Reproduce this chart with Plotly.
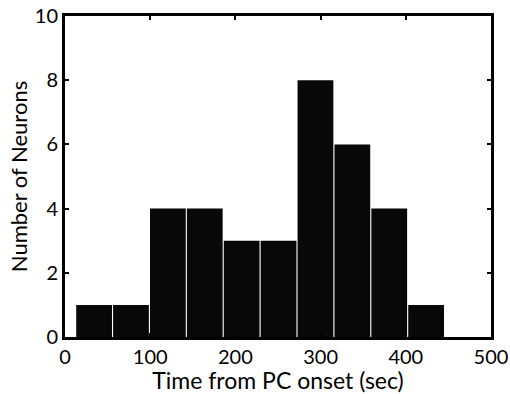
import plotly.graph_objects as go

# Data
bin_edges = [12.5, 55.8, 99.1, 142.4, 185.7, 229.0, 272.3, 315.6, 358.9, 402.2, 445.5]
counts = [1, 1, 4, 4, 3, 3, 8, 6, 4, 1]
x_ticks = [0, 100, 200, 300, 400, 500]
y_ticks = [0, 2, 4, 6, 8, 10]

centers = [(a + b) / 2 for a, b in zip(bin_edges[:-1], bin_edges[1:])]
widths = [(b - a) - 1.3 for a, b in zip(bin_edges[:-1], bin_edges[1:])]

font_family = "Lato, Open Sans, sans-serif"

fig = go.Figure(
    go.Bar(
        x=centers,
        y=counts,
        width=widths,
        marker=dict(color="#080808", line=dict(width=0)),
    )
)

axis_common = dict(
    showline=True,
    linecolor="black",
    linewidth=3,
    mirror="ticks",
    ticks="inside",
    ticklen=4,
    tickwidth=2,
    tickcolor="black",
    showgrid=False,
    zeroline=False,
    automargin=False,
    ticklabeloverflow="allow",
    tickfont=dict(family=font_family, size=20, color="black"),
)

fig.update_layout(
    width=510,
    height=394,
    margin=dict(l=65, r=19, t=16, b=57),
    paper_bgcolor="white",
    plot_bgcolor="white",
    showlegend=False,
    xaxis=dict(
        axis_common,
        range=[0, 500],
        tickvals=x_ticks,
        title=dict(text="Time from PC onset (sec)", standoff=0,
                   font=dict(family=font_family, size=23, color="black")),
    ),
    yaxis=dict(
        axis_common,
        range=[0, 10],
        tickvals=y_ticks,
        title=dict(text="Number of Neurons", standoff=2,
                   font=dict(family=font_family, size=22, color="black")),
    ),
)

fig.write_html(
    "out.html",
    config={"displayModeBar": False},
    post_script="document.body.style.margin='0';document.body.style.overflow='hidden';",
)
